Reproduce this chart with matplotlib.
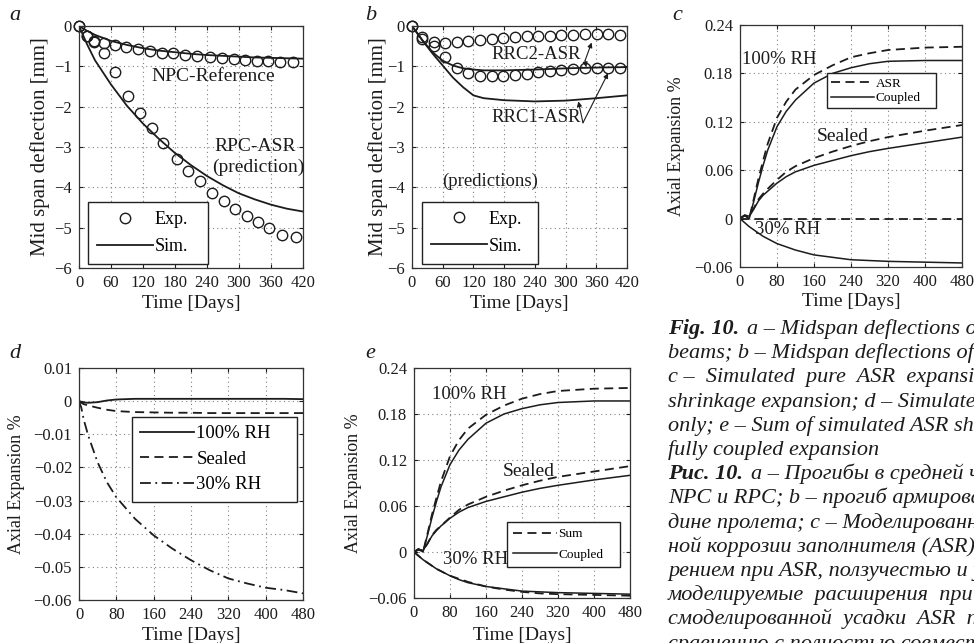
import matplotlib
matplotlib.use("Agg")
import matplotlib.pyplot as plt
from matplotlib.lines import Line2D

plt.rcParams['font.family'] = ['Liberation Serif', 'DejaVu Serif']
plt.rcParams['mathtext.fontset'] = 'stix'

INK = '#1c1c1c'

# ── panel a: NPC / RPC beams ──────────────────────────────────────
a_npc_exp_days = [0, 15, 29, 46, 67, 88, 110, 133, 155, 177, 199, 221, 246, 268, 290, 312, 334, 355, 377, 402]
a_npc_exp = [0, -0.24, -0.36, -0.41, -0.47, -0.53, -0.57, -0.63, -0.66, -0.68, -0.71, -0.74,
             -0.76, -0.79, -0.82, -0.84, -0.86, -0.88, -0.89, -0.9]
a_rpc_exp_days = [0, 15, 29, 46, 67, 92, 115, 136, 158, 183, 205, 227, 249, 271, 293, 315, 336, 357, 380, 407]
a_rpc_exp = [0, -0.26, -0.4, -0.66, -1.15, -1.73, -2.15, -2.52, -2.91, -3.29, -3.6, -3.85,
             -4.14, -4.34, -4.54, -4.7, -4.87, -5.01, -5.17, -5.24]
a_sim_days = [0, 15, 30, 60, 90, 120, 150, 180, 210, 240, 270, 300, 330, 360, 390, 420]
a_npc_sim = [0, -0.12, -0.22, -0.37, -0.47, -0.55, -0.61, -0.65, -0.69, -0.72, -0.74, -0.76, -0.78, -0.79, -0.8, -0.81]
a_rpc_sim = [0, -0.45, -0.85, -1.45, -1.98, -2.42, -2.8, -3.15, -3.45, -3.72, -3.95, -4.15, -4.3, -4.43, -4.53, -4.6]

# ── panel b: RRC beams ────────────────────────────────────────────
b_exp_days = [0, 19, 42, 64, 87, 110, 133, 156, 178, 201, 224, 247, 270, 292, 315, 338, 361, 383, 406]
b_rrc2_exp = [0, -0.28, -0.39, -0.41, -0.39, -0.37, -0.34, -0.32, -0.3, -0.28, -0.26, -0.24,
              -0.24, -0.22, -0.22, -0.21, -0.2, -0.2, -0.22]
b_rrc1_exp = [0, -0.32, -0.49, -0.78, -1.03, -1.17, -1.24, -1.25, -1.24, -1.22, -1.19, -1.15,
              -1.11, -1.09, -1.07, -1.05, -1.05, -1.05, -1.05]
b_sim_days = [0, 20, 40, 60, 80, 100, 120, 140, 180, 240, 300, 360, 420]
b_rrc1_sim = [0, -0.35, -0.68, -0.98, -1.28, -1.52, -1.72, -1.79, -1.84, -1.87, -1.85, -1.79, -1.72]
b_rrc2_sim = [0, -0.35, -0.65, -0.86, -0.98, -1.05, -1.08, -1.1, -1.1, -1.08, -1.05, -1.03, -1.02]

# ── panel c: pure ASR vs coupled ──────────────────────────────────
c_days = [0, 10, 20, 30, 40, 50, 60, 80, 100, 120, 160, 200, 240, 280, 320, 400, 480]
c_asr_100 = [0, 0.004, 0.0, 0.025, 0.05, 0.072, 0.093, 0.125, 0.145, 0.16, 0.178, 0.19, 0.2, 0.205, 0.209, 0.212, 0.213]
c_cpl_100 = [0, 0.004, 0.0, 0.022, 0.045, 0.066, 0.085, 0.114, 0.133, 0.147, 0.168, 0.18, 0.187, 0.192, 0.195, 0.196, 0.196]
c_asr_sealed = [0, 0.004, 0.003, 0.013, 0.024, 0.031, 0.037, 0.048, 0.058, 0.065, 0.075, 0.083, 0.09, 0.096, 0.101, 0.109, 0.116]
c_cpl_sealed = [0, 0.004, 0.003, 0.012, 0.022, 0.029, 0.034, 0.044, 0.052, 0.058, 0.066, 0.072, 0.078, 0.083, 0.087, 0.094, 0.101]
c_asr_30 = [0, 0, 0, 0, 0, 0, 0, 0, 0, 0, 0, 0, 0, 0, 0, 0, 0]
c_cpl_30 = [0, -0.005, -0.01, -0.014, -0.018, -0.022, -0.025, -0.031, -0.035, -0.039, -0.045, -0.048,
            -0.051, -0.052, -0.053, -0.054, -0.055]

# ── panel d: shrinkage only ───────────────────────────────────────
d_days = [0, 5, 10, 20, 40, 60, 80, 120, 160, 200, 240, 280, 320, 360, 400, 440, 480]
d_100 = [0, -0.0002, -0.0004, -0.0005, -0.0003, 0.0002, 0.0005, 0.0007, 0.0007, 0.0007, 0.0007,
         0.0007, 0.0007, 0.0007, 0.0007, 0.0007, 0.0006]
d_sealed = [0, -0.0005, -0.0009, -0.0013, -0.002, -0.0026, -0.003, -0.0033, -0.0034, -0.0035, -0.0035,
            -0.0036, -0.0036, -0.0036, -0.0036, -0.0036, -0.0036]
d_30 = [0, -0.002, -0.0055, -0.0105, -0.0185, -0.0245, -0.029, -0.0355, -0.0405, -0.0445, -0.048,
        -0.051, -0.0535, -0.055, -0.0563, -0.057, -0.058]

# ── panel e: sum vs coupled ───────────────────────────────────────
e_days = [0, 10, 20, 30, 40, 50, 60, 80, 100, 120, 160, 200, 240, 280, 320, 400, 480]
e_sum_100 = [0, 0.004, 0.0, 0.024, 0.049, 0.071, 0.092, 0.125, 0.146, 0.161, 0.179, 0.191, 0.2, 0.206, 0.21, 0.213, 0.214]
e_cpl_100 = [0, 0.004, 0.0, 0.022, 0.045, 0.066, 0.085, 0.114, 0.133, 0.147, 0.168, 0.18, 0.187, 0.192, 0.195, 0.197, 0.197]
e_sum_sealed = [0, 0.003, 0.002, 0.011, 0.022, 0.029, 0.034, 0.045, 0.055, 0.062, 0.072, 0.08, 0.087, 0.093, 0.098, 0.105, 0.112]
e_cpl_sealed = [0, 0.003, 0.002, 0.011, 0.021, 0.028, 0.034, 0.044, 0.052, 0.058, 0.066, 0.072, 0.078, 0.083, 0.087, 0.094, 0.1]
e_sum_30 = [0, -0.005, -0.01, -0.014, -0.018, -0.022, -0.025, -0.031, -0.035, -0.039, -0.045, -0.049,
            -0.052, -0.054, -0.055, -0.056, -0.057]
e_cpl_30 = [0, -0.005, -0.01, -0.014, -0.018, -0.022, -0.025, -0.031, -0.036, -0.04, -0.045, -0.048,
            -0.051, -0.052, -0.053, -0.054, -0.055]

# tick labels
defl_xticks = [0, 60, 120, 180, 240, 300, 360, 420]
defl_yticks = [0, -1, -2, -3, -4, -5, -6]
defl_ylabels = ['0', '\u22121', '\u22122', '\u22123', '\u22124', '\u22125', '\u22126']
exp_xticks = [0, 80, 160, 240, 320, 400, 480]
exp_yticks = [0.24, 0.18, 0.12, 0.06, 0, -0.06]
exp_ylabels = ['0.24', '0.18', '0.12', '0.06', '0', '\u22120.06']
shr_yticks = [0.01, 0, -0.01, -0.02, -0.03, -0.04, -0.05, -0.06]
shr_ylabels = ['0.01', '0', '\u22120.01', '\u22120.02', '\u22120.03', '\u22120.04', '\u22120.05', '\u22120.06']

caption_lines = [
    ('Fig. 10.', 'a \u2013 Midspan deflections of NPC and RPC'),
    ('', 'beams; b \u2013 Midspan deflections of reinforced RPC'),
    ('', 'c \u2013  Simulated  pure  ASR  expansion compared'),
    ('', 'shrinkage expansion; d \u2013 Simulated shrinkage'),
    ('', 'only; e \u2013 Sum of simulated ASR shrinkage'),
    ('', 'fully coupled expansion'),
    ('\u0420\u0438\u0441. 10.', 'a \u2013 \u041f\u0440\u043e\u0433\u0438\u0431\u044b \u0432 \u0441\u0440\u0435\u0434\u043d\u0435\u0439 \u0447\u0430\u0441\u0442\u0438'),
    ('', 'NPC \u0438 RPC; b \u2013 \u043f\u0440\u043e\u0433\u0438\u0431 \u0430\u0440\u043c\u0438\u0440\u043e\u0432\u0430\u043d\u043d\u044b\u0445'),
    ('', '\u0434\u0438\u043d\u0435 \u043f\u0440\u043e\u043b\u0435\u0442\u0430; \u0441 \u2013 \u041c\u043e\u0434\u0435\u043b\u0438\u0440\u043e\u0432\u0430\u043d\u043d\u043e\u0435'),
    ('', '\u043d\u043e\u0439 \u043a\u043e\u0440\u0440\u043e\u0437\u0438\u0438 \u0437\u0430\u043f\u043e\u043b\u043d\u0438\u0442\u0435\u043b\u044f (ASR)'),
    ('', '\u0440\u0435\u043d\u0438\u0435\u043c \u043f\u0440\u0438 ASR, \u043f\u043e\u043b\u0437\u0443\u0447\u0435\u0441\u0442\u044c\u044e \u0438 \u0443\u0441\u0430\u0434\u043a\u043e\u0439'),
    ('', '\u043c\u043e\u0434\u0435\u043b\u0438\u0440\u0443\u0435\u043c\u044b\u0435  \u0440\u0430\u0441\u0448\u0438\u0440\u0435\u043d\u0438\u044f  \u043f\u0440\u0438  \u0443\u0441\u0430\u0434\u043a\u0435'),
    ('', '\u0441\u043c\u043e\u0434\u0435\u043b\u0438\u0440\u043e\u0432\u0430\u043d\u043d\u043e\u0439  \u0443\u0441\u0430\u0434\u043a\u0438  ASR  \u043f\u043e'),
    ('', '\u0441\u0440\u0430\u0432\u043d\u0435\u043d\u0438\u044e \u0441 \u043f\u043e\u043b\u043d\u043e\u0441\u0442\u044c\u044e \u0441\u043e\u0432\u043c\u0435\u0441\u0442\u043d\u044b\u043c'),
]

W, H = 974, 643
fig = plt.figure(figsize=(W / 100, H / 100), dpi=100)
fig.patch.set_facecolor('white')


def px_axes(x, y, w, h):
    return fig.add_axes([x / W, 1 - (y + h) / H, w / W, h / H])


def matlab_style(ax, xticks, yticks, ylabels, xlim, ylim):
    ax.set_xlim(*xlim)
    ax.set_ylim(*ylim)
    ax.set_xticks(xticks)
    ax.set_xticklabels([str(t) for t in xticks])
    ax.set_yticks(yticks)
    ax.set_yticklabels(ylabels)
    ax.grid(True, linestyle=(0, (1, 3)), color='#808080', linewidth=0.8)
    ax.tick_params(direction='in', length=3, top=True, right=True, labelsize=12,
                   pad=5, colors=INK)
    for s in ax.spines.values():
        s.set_linewidth(0.9)
        s.set_color('#333333')
    ax.set_axisbelow(True)


def set_labels(ax, xlabel, ylabel, xpos, ypos, ysize):
    ax.set_xlabel(xlabel, fontsize=14, color=INK)
    ax.set_ylabel(ylabel, fontsize=ysize, color=INK)
    ax.xaxis.set_label_coords(0.5, xpos)
    ax.yaxis.set_label_coords(ypos, 0.5)
    ax.xaxis.label.set_va('center')
    ax.yaxis.label.set_va('center')


# MATLAB-like boxed legend: fixed width box, entries left-aligned
legend_kw = dict(frameon=True, fancybox=False, framealpha=1, edgecolor='#222222',
                 borderaxespad=0, handletextpad=0.1, loc='upper left', mode='expand')

# ── a ─────────────────────────────────────────────────────────────
ax = px_axes(79, 26, 224, 242)
matlab_style(ax, defl_xticks, defl_yticks, defl_ylabels, (0, 420), (-6, 0))
ax.plot(a_npc_exp_days, a_npc_exp, 'o', ms=7.5, mfc='none', mec=INK, mew=1.0, clip_on=False)
ax.plot(a_rpc_exp_days, a_rpc_exp, 'o', ms=7.5, mfc='none', mec=INK, mew=1.0, clip_on=False)
ax.plot(a_sim_days, a_npc_sim, '-', color=INK, lw=1.3)
ax.plot(a_sim_days, a_rpc_sim, '-', color=INK, lw=1.3)
ax.text(251, -1.24, 'NPC-Reference', fontsize=14, ha='center', va='center', color=INK)
ax.text(330, -2.98, 'RPC-ASR', fontsize=14, ha='center', va='center', color=INK)
ax.text(336, -3.5, '(prediction)', fontsize=14, ha='center', va='center', color=INK)
set_labels(ax, 'Time [Days]', 'Mid span deflection [mm]', -0.145, -0.174, 15)
handles = [Line2D([], [], ls='none', marker='o', ms=7.5, mfc='none', mec=INK, mew=1.0),
           Line2D([], [], color=INK, lw=1.3)]
ax.legend(handles, ['Exp.', 'Sim.'], bbox_to_anchor=(0.04, 0.0, 0.536, 0.273),
          fontsize=13, handlelength=3.1, borderpad=0.5, labelspacing=0.55, **legend_kw)

# ── b ─────────────────────────────────────────────────────────────
ax = px_axes(412, 26, 215, 242)
matlab_style(ax, defl_xticks, defl_yticks, defl_ylabels, (0, 420), (-6, 0))
ax.plot(b_exp_days, b_rrc2_exp, 'o', ms=7.5, mfc='none', mec=INK, mew=1.0, clip_on=False)
ax.plot(b_exp_days, b_rrc1_exp, 'o', ms=7.5, mfc='none', mec=INK, mew=1.0, clip_on=False)
ax.plot(b_sim_days, b_rrc1_sim, '-', color=INK, lw=1.3)
ax.plot(b_sim_days, b_rrc2_sim, '-', color=INK, lw=1.3)
ax.text(243, -0.7, 'RRC2-ASR', fontsize=13.5, ha='center', va='center', color=INK)
ax.text(243, -2.27, 'RRC1-ASR', fontsize=13.5, ha='center', va='center', color=INK)
ax.text(152, -3.85, '(predictions)', fontsize=13.5, ha='center', va='center', color=INK)
arrow = dict(arrowstyle='-|>', lw=0.8, color=INK, mutation_scale=7, shrinkA=0, shrinkB=0)
ax.annotate('', xy=(351, -0.41), xytext=(338, -0.86), arrowprops=arrow)
ax.annotate('', xy=(340, -1.02), xytext=(338, -0.86), arrowprops=arrow)
ax.annotate('', xy=(383, -1.17), xytext=(334, -2.4), arrowprops=arrow)
ax.annotate('', xy=(325, -1.87), xytext=(334, -2.4), arrowprops=arrow)
set_labels(ax, 'Time [Days]', 'Mid span deflection [mm]', -0.145, -0.158, 15)
ax.legend(handles, ['Exp.', 'Sim.'], bbox_to_anchor=(0.045, 0.0, 0.542, 0.274),
          fontsize=13, handlelength=3.1, borderpad=0.5, labelspacing=0.55, **legend_kw)

# ── c ─────────────────────────────────────────────────────────────
ax = px_axes(740, 25, 222, 242)
matlab_style(ax, exp_xticks, exp_yticks, exp_ylabels, (0, 480), (-0.06, 0.24))
dash = (0, (5, 3))
for asr, cpl in [(c_asr_100, c_cpl_100), (c_asr_sealed, c_cpl_sealed), (c_asr_30, c_cpl_30)]:
    ax.plot(c_days, asr, color=INK, lw=1.3, ls=dash)
    ax.plot(c_days, cpl, color=INK, lw=1.1)
ax.text(5, 0.197, '100% RH', fontsize=13.5, ha='left', va='center', color=INK)
ax.text(223, 0.102, 'Sealed', fontsize=14, ha='center', va='center', color=INK)
ax.text(32, -0.014, '30% RH', fontsize=13.5, ha='left', va='center', color=INK)
set_labels(ax, 'Time [Days]', 'Axial Expansion %', -0.143, -0.285, 13)
h2 = [Line2D([], [], color=INK, lw=1.3, ls=dash), Line2D([], [], color=INK, lw=1.1)]
ax.legend(h2, ['ASR', 'Coupled'], bbox_to_anchor=(0.39, 0.0, 0.495, 0.80),
          fontsize=9.5, handlelength=3.3, borderpad=0.3, labelspacing=0.2, **legend_kw)

# ── d ─────────────────────────────────────────────────────────────
ax = px_axes(79, 368, 224, 232)
matlab_style(ax, exp_xticks, shr_yticks, shr_ylabels, (0, 480), (-0.06, 0.01))
ax.plot(d_days, d_100, color=INK, lw=1.3, label='100% RH')
ax.plot(d_days, d_sealed, color=INK, lw=1.3, ls=dash, label='Sealed')
ax.plot(d_days, d_30, color=INK, lw=1.3, ls=(0, (6, 2.5, 1, 2.5)), label='30% RH')
set_labels(ax, 'Time [Days]', 'Axial Expansion %', -0.151, -0.278, 13)
ax.legend(bbox_to_anchor=(0.235, 0.0, 0.737, 0.79), fontsize=13.5,
          handlelength=2.9, borderpad=0.45, labelspacing=0.45, **legend_kw)

# ── e ─────────────────────────────────────────────────────────────
ax = px_axes(414, 368, 216, 230)
matlab_style(ax, exp_xticks, exp_yticks, exp_ylabels, (0, 480), (-0.06, 0.24))
for s, cpl in [(e_sum_100, e_cpl_100), (e_sum_sealed, e_cpl_sealed), (e_sum_30, e_cpl_30)]:
    ax.plot(e_days, s, color=INK, lw=1.3, ls=dash)
    ax.plot(e_days, cpl, color=INK, lw=1.1)
ax.text(39, 0.205, '100% RH', fontsize=13.5, ha='left', va='center', color=INK)
ax.text(254, 0.105, 'Sealed', fontsize=14, ha='center', va='center', color=INK)
ax.text(65, -0.01, '30% RH', fontsize=13.5, ha='left', va='center', color=INK)
set_labels(ax, 'Time [Days]', 'Axial Expansion %', -0.161, -0.281, 13)
ax.legend(h2, ['Sum', 'Coupled'], bbox_to_anchor=(0.43, 0.0, 0.525, 0.332),
          fontsize=9.5, handlelength=3.3, borderpad=0.5, labelspacing=0.6, **legend_kw)

# ── panel letters ─────────────────────────────────────────────────
for letter, (x, y) in zip('abcde', [(15, 15), (371, 15), (677, 15), (15, 353), (370, 353)]):
    fig.text(x / W, 1 - y / H, letter, fontsize=16, style='italic', ha='center',
             va='center', color=INK)

# ── caption ───────────────────────────────────────────────────────
renderer = fig.canvas.get_renderer()
for i, (bold, rest) in enumerate(caption_lines):
    x0 = 668
    yb = 334 + 24.2 * i
    xr = x0
    if bold:
        t = fig.text(x0 / W, 1 - yb / H, bold, fontsize=16, style='italic',
                     weight='bold', va='baseline', ha='left', color=INK)
        bb = t.get_window_extent(renderer)
        xr = bb.x1 + 8
    fig.text(xr / W, 1 - yb / H, rest, fontsize=16, style='italic',
             va='baseline', ha='left', color=INK)

fig.savefig('out.png', dpi=100, facecolor='white')
